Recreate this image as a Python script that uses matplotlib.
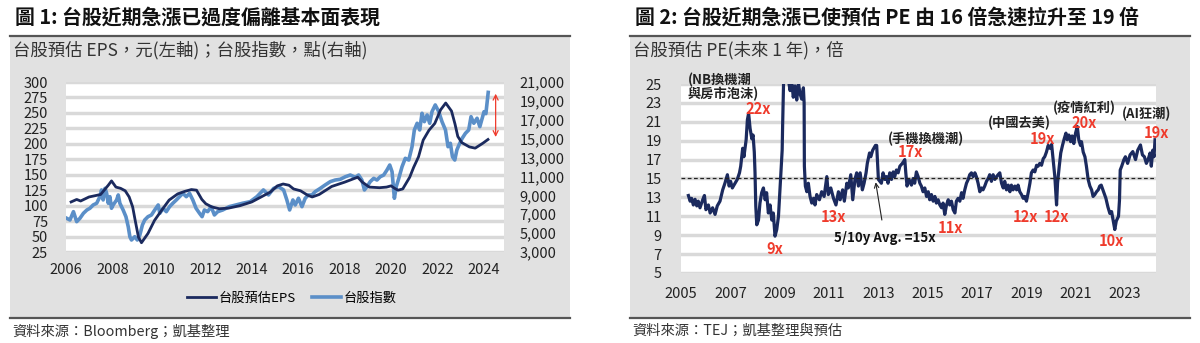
import matplotlib.pyplot as plt
from matplotlib.patches import Rectangle
from matplotlib.lines import Line2D
from matplotlib.ticker import FuncFormatter

plt.rcParams['font.family'] = ['Noto Sans CJK TC', 'DejaVu Sans']

NAVY = '#1b2a5e'
LIGHT = '#5b8fc8'
RED = '#ef3b2c'
PANEL = '#e1e1e1'
GRID = '#d9d9d9'
TICK_FONT = ['Liberation Sans Narrow', 'Noto Sans CJK TC']

# --- 台股預估 EPS (元) ---
eps_years = [2006.22, 2006.46, 2006.63, 2006.99, 2007.49, 2007.82, 2007.96, 2008.15,
             2008.35, 2008.55, 2008.72, 2008.87, 2008.98, 2009.12, 2009.25, 2009.53,
             2009.81, 2010.11, 2010.44, 2010.81, 2011.11, 2011.40, 2011.62, 2011.85,
             2012.02, 2012.27, 2012.60, 2013.00, 2013.50, 2014.00, 2014.50, 2014.80,
             2015.10, 2015.35, 2015.60, 2015.80, 2016.10, 2016.40, 2016.60, 2016.90,
             2017.44, 2018.00, 2018.56, 2018.76, 2019.06, 2019.50, 2019.80, 2020.00,
             2020.15, 2020.30, 2020.50, 2020.80, 2020.97, 2021.18, 2021.38, 2021.63,
             2021.88, 2022.13, 2022.35, 2022.60, 2022.75, 2022.87, 2023.04, 2023.37,
             2023.62, 2023.95, 2024.17]
eps_values = [106, 110, 107.5, 114, 118, 133, 140, 130,
              128, 124, 114, 98, 76, 49, 40, 55,
              76, 92, 109, 119, 123, 126, 125, 110,
              103, 98, 95, 96, 100, 106, 116, 122,
              132, 135, 133, 127, 124, 117, 114, 118,
              131, 138, 146, 138, 130, 129, 130, 132,
              128, 125, 127, 146, 162, 179, 206, 222,
              233, 255, 266, 253, 232, 212, 202, 195,
              193, 201, 207]

# --- 台股指數 (點) ---
idx_years = [2006.03, 2006.17, 2006.32, 2006.46, 2006.60, 2006.75, 2006.90, 2007.03,
             2007.17, 2007.32, 2007.46, 2007.53, 2007.60, 2007.68, 2007.75, 2007.82,
             2007.89, 2007.96, 2008.03, 2008.18, 2008.25, 2008.32, 2008.46, 2008.58,
             2008.68, 2008.75, 2008.82, 2008.96, 2009.07, 2009.18, 2009.29, 2009.39,
             2009.53, 2009.68, 2009.82, 2009.97, 2010.04, 2010.18, 2010.32, 2010.46,
             2010.60, 2010.75, 2010.89, 2011.03, 2011.18, 2011.32, 2011.46, 2011.60,
             2011.75, 2011.86, 2011.96, 2012.10, 2012.25, 2012.39, 2012.53, 2012.75,
             2013.03, 2013.32, 2013.60, 2013.93, 2014.22, 2014.50, 2014.72, 2014.94,
             2015.15, 2015.37, 2015.51, 2015.63, 2015.77, 2015.87, 2016.01, 2016.16,
             2016.30, 2016.44, 2016.59, 2016.73, 2016.95, 2017.16, 2017.38, 2017.59,
             2017.81, 2018.03, 2018.24, 2018.46, 2018.60, 2018.74, 2018.85, 2018.96,
             2019.10, 2019.25, 2019.39, 2019.53, 2019.68, 2019.82, 2019.94, 2020.04,
             2020.14, 2020.22, 2020.33, 2020.47, 2020.61, 2020.76, 2020.90, 2021.00,
             2021.12, 2021.23, 2021.33, 2021.43, 2021.55, 2021.66, 2021.76, 2021.90,
             2022.05, 2022.19, 2022.34, 2022.45, 2022.55, 2022.64, 2022.74, 2022.83,
             2022.92, 2023.06, 2023.20, 2023.34, 2023.44, 2023.56, 2023.70, 2023.82,
             2023.92, 2024.00, 2024.08, 2024.18]
idx_values = [6570, 6390, 7270, 6210, 6570, 7100, 7450, 7630,
              7980, 8160, 8860, 9570, 8510, 9740, 9210, 8160,
              8860, 7630, 7980, 8510, 9040, 8160, 7450, 6740,
              5680, 4620, 4270, 4620, 4270, 4800, 5860, 6390,
              6740, 6920, 7450, 7980, 7100, 7630, 7270, 7800,
              8160, 8510, 8860, 9210, 8860, 9210, 8510, 7630,
              7100, 6740, 7450, 7270, 7800, 6920, 7270, 7450,
              7800, 7980, 8160, 8330, 8860, 9570, 9040, 9740,
              9920, 9570, 8510, 7450, 8510, 7980, 8690, 7800,
              8690, 9040, 9040, 9390, 9740, 10100, 10450, 10620,
              10700, 10970, 11150, 10910, 11150, 10620, 9570, 9920,
              10450, 10800, 10620, 10970, 11150, 11680, 12210, 11500,
              8690, 9920, 10800, 12030, 12920, 12740, 14150, 15920,
              16630, 15920, 17690, 16800, 17510, 16630, 17860, 18570,
              17860, 16800, 15920, 14150, 14510, 13090, 12740, 13800,
              14330, 15040, 15570, 15920, 17330, 16630, 17160, 16270,
              17160, 17860, 17650, 19900]

# --- 台股預估 PE (未來 1 年, 倍) ---
pe_years = [2005.30, 2005.37, 2005.43, 2005.50, 2005.57, 2005.64, 2005.70, 2005.77,
            2005.88, 2005.95, 2006.01, 2006.11, 2006.18, 2006.28, 2006.38, 2006.47,
            2006.58, 2006.69, 2006.78, 2006.88, 2006.95, 2007.01, 2007.08, 2007.19,
            2007.28, 2007.37, 2007.42, 2007.50, 2007.55, 2007.64, 2007.69, 2007.74,
            2007.80, 2007.87, 2007.92, 2007.97, 2008.00, 2008.03, 2008.07, 2008.14,
            2008.20, 2008.27, 2008.34, 2008.41, 2008.47, 2008.54, 2008.61, 2008.68,
            2008.74, 2008.81, 2008.88, 2008.95, 2009.01, 2009.05, 2009.10, 2009.12,
            2009.16, 2009.22, 2009.28, 2009.35, 2009.42, 2009.49, 2009.55, 2009.62,
            2009.69, 2009.76, 2009.82, 2009.89, 2009.96, 2009.99, 2010.00, 2010.04,
            2010.10, 2010.16, 2010.23, 2010.30, 2010.37, 2010.43, 2010.50, 2010.61,
            2010.70, 2010.80, 2010.91, 2010.97, 2011.07, 2011.18, 2011.28, 2011.38,
            2011.45, 2011.55, 2011.62, 2011.72, 2011.78, 2011.88, 2011.96, 2012.05,
            2012.12, 2012.19, 2012.26, 2012.35, 2012.42, 2012.50, 2012.55, 2012.64,
            2012.69, 2012.77, 2012.88, 2012.93, 2013.00, 2013.12, 2013.19, 2013.26,
            2013.33, 2013.39, 2013.46, 2013.53, 2013.60, 2013.66, 2013.73, 2013.80,
            2013.87, 2013.97, 2014.07, 2014.11, 2014.16, 2014.24, 2014.34, 2014.41,
            2014.47, 2014.54, 2014.61, 2014.68, 2014.74, 2014.81, 2014.88, 2014.95,
            2015.02, 2015.08, 2015.15, 2015.22, 2015.29, 2015.35, 2015.42, 2015.49,
            2015.56, 2015.62, 2015.69, 2015.76, 2015.83, 2015.89, 2015.96, 2016.03,
            2016.10, 2016.16, 2016.23, 2016.30, 2016.37, 2016.43, 2016.50, 2016.57,
            2016.64, 2016.70, 2016.77, 2016.84, 2016.91, 2016.97, 2017.04, 2017.11,
            2017.18, 2017.24, 2017.31, 2017.38, 2017.45, 2017.51, 2017.58, 2017.65,
            2017.72, 2017.79, 2017.85, 2017.92, 2017.99, 2018.06, 2018.12, 2018.19,
            2018.26, 2018.33, 2018.39, 2018.46, 2018.53, 2018.60, 2018.66, 2018.73,
            2018.80, 2018.87, 2018.93, 2019.00, 2019.07, 2019.14, 2019.20, 2019.27,
            2019.34, 2019.41, 2019.47, 2019.54, 2019.61, 2019.68, 2019.74, 2019.81,
            2019.88, 2019.95, 2020.02, 2020.08, 2020.15, 2020.19, 2020.22, 2020.26,
            2020.33, 2020.39, 2020.46, 2020.53, 2020.60, 2020.65, 2020.72, 2020.79,
            2020.85, 2020.92, 2020.99, 2021.06, 2021.12, 2021.19, 2021.23, 2021.30,
            2021.37, 2021.43, 2021.50, 2021.57, 2021.64, 2021.70, 2021.77, 2021.84,
            2021.91, 2021.97, 2022.03, 2022.14, 2022.22, 2022.30, 2022.38, 2022.45,
            2022.53, 2022.58, 2022.64, 2022.73, 2022.77, 2022.80, 2022.86, 2022.95,
            2023.01, 2023.10, 2023.20, 2023.31, 2023.42, 2023.51, 2023.62, 2023.70,
            2023.78, 2023.86, 2023.93, 2024.01, 2024.06, 2024.12, 2024.17, 2024.21]
pe_values = [13.2, 12.6, 12.9, 12.2, 12.8, 12.1, 12.6, 11.9,
             12.75, 13.2, 11.7, 12.2, 11.35, 11.9, 11.2, 12.1,
             12.6, 13.8, 14.5, 15.4, 14.2, 14.7, 14.0, 14.5,
             14.9, 15.6, 16.3, 18.2, 17.3, 19.1, 21.2, 21.9,
             20.3, 19.2, 19.6, 17.8, 15.6, 12.1, 10.1, 10.6,
             12.4, 13.5, 14.0, 12.75, 13.5, 11.35, 12.2, 10.6,
             11.35, 8.9, 9.6, 11.0, 13.8, 15.6, 18.0, 20.8,
             25.5, 28.0, 30.0, 25.5, 24.3, 25.2, 23.6, 24.8,
             23.3, 25.1, 24.0, 23.4, 24.6, 23.0, 16.3, 14.2,
             13.6, 14.5, 13.1, 12.4, 12.9, 12.2, 13.3, 12.75,
             13.6, 13.1, 15.2, 13.3, 14.0, 12.9, 12.2, 13.6,
             12.75, 13.8, 12.6, 14.5, 14.0, 15.4, 12.75, 14.9,
             15.6, 14.2, 15.6, 13.8, 14.5, 15.6, 16.6, 17.7,
             17.3, 18.0, 18.5, 18.5, 14.9, 14.5, 15.6, 14.9,
             15.2, 14.5, 15.6, 14.9, 15.7, 15.2, 15.9, 15.6,
             16.3, 16.6, 17.0, 15.6, 14.2, 14.9, 14.3, 15.0,
             14.5, 15.7, 15.2, 14.5, 14.2, 13.6, 14.0, 13.1,
             13.6, 12.75, 13.3, 12.6, 13.1, 12.4, 12.75, 12.2,
             11.9, 12.4, 11.2, 12.2, 12.75, 12.2, 12.6, 11.7,
             11.35, 12.6, 12.9, 12.6, 13.5, 12.9, 13.8, 14.5,
             14.9, 15.4, 15.6, 15.2, 15.6, 15.2, 14.5, 13.6,
             14.0, 13.8, 14.2, 14.7, 15.0, 15.4, 14.7, 15.4,
             14.9, 15.2, 15.4, 15.6, 14.5, 14.0, 14.7, 13.8,
             14.3, 13.6, 14.3, 13.8, 14.2, 13.8, 14.3, 13.6,
             13.3, 12.9, 13.1, 12.6, 13.5, 14.5, 15.6, 15.9,
             15.7, 16.4, 16.3, 16.6, 16.4, 17.1, 17.3, 17.8,
             18.5, 18.2, 18.6, 17.0, 15.2, 13.5, 12.2, 14.5,
             16.3, 17.7, 18.5, 19.2, 19.8, 19.1, 19.6, 18.9,
             19.5, 18.7, 19.8, 20.5, 19.1, 18.5, 18.9, 17.8,
             17.3, 16.3, 14.9, 14.2, 13.8, 13.1, 13.3, 13.6,
             13.8, 14.2, 14.3, 13.5, 12.9, 12.0, 11.3, 11.5,
             10.3, 9.6, 10.5, 11.0, 12.7, 15.9, 16.3, 17.0,
             17.3, 16.6, 17.5, 17.85, 17.0, 18.0, 18.55, 17.5,
             17.3, 16.6, 17.0, 17.7, 16.3, 18.0, 17.3, 19.1]
pe_avg = 15

# PE callouts: (text, year, value)
pe_red_labels = [('22x', 2008.12, 22.4), ('9x', 2008.82, 7.5), ('13x', 2011.2, 10.9),
                 ('17x', 2014.32, 17.8), ('11x', 2015.91, 9.75), ('12x', 2018.95, 10.9),
                 ('19x', 2019.65, 19.15), ('12x', 2020.23, 10.9), ('20x', 2021.33, 20.9),
                 ('10x', 2022.45, 8.35), ('19x', 2024.29, 19.8)]
pe_theme_labels = [('(手機換機潮)', 2014.94, 19.2), ('(中國去美)', 2018.71, 20.9),
                   ('(疫情紅利)', 2021.35, 22.45), ('(AI狂潮)', 2023.86, 21.8)]

W, H = 1200, 343
fig = plt.figure(figsize=(12, 3.43), dpi=100)


def px_box(x0, y0, x1, y1):
    # pixel box measured from the top-left -> figure fraction [l, b, w, h]
    return [x0 / W, 1 - y1 / H, (x1 - x0) / W, (y1 - y0) / H]


def panel(x0, x1, title, subtitle, source):
    fig.patches.append(Rectangle((x0 / W, 1 - 318 / H), (x1 - x0) / W, (318 - 37) / H,
                                 transform=fig.transFigure, facecolor=PANEL,
                                 edgecolor='none', zorder=-10))
    for yy in (36, 318):
        fig.add_artist(Line2D([x0 / W, x1 / W], [1 - yy / H] * 2, color='#555555', lw=1.6))
    fig.text((x0 + 5) / W, 1 - 17 / H, title, fontsize=14.3, fontweight='bold',
             va='center', color='#111111')
    fig.text((x0 + 3) / W, 1 - 50 / H, subtitle, fontsize=12.5, va='center', color='#333333')
    fig.text((x0 + 2) / W, 1 - 331 / H, source, fontsize=10.3, style='italic',
             va='center', color='#333333')


def style(ax, pad_y):
    ax.set_facecolor('white')
    for s in ax.spines.values():
        s.set_visible(False)
    ax.tick_params(length=0, labelsize=10.5, colors='#222222')
    ax.tick_params(axis='y', pad=pad_y)
    ax.tick_params(axis='x', pad=8)
    ax.grid(axis='y', color=GRID, lw=2.5)
    ax.set_axisbelow(True)
    for lab in ax.get_xticklabels() + ax.get_yticklabels():
        lab.set_family(TICK_FONT)


# ---------------- 圖 1 ----------------
panel(10, 570, '圖 1: 台股近期急漲已過度偏離基本面表現',
      '台股預估 EPS，元(左軸)；台股指數，點(右軸)',
      '資料來源：Bloomberg；凱基整理')

ax = fig.add_axes(px_box(66, 82, 504, 252))
ax.set_xlim(2006, 2024.86)
ax.set_ylim(25, 300)
ax.set_xticks(range(2006, 2025, 2))
ax.set_yticks(range(25, 301, 25))
style(ax, 13)

ax2 = ax.twinx()
ax2.set_ylim(3000, 21000)
ax2.set_yticks(range(3000, 21001, 2000))
ax2.yaxis.set_major_formatter(FuncFormatter(lambda v, p: f'{v:,.0f}'))
for s in ax2.spines.values():
    s.set_visible(False)
ax2.tick_params(length=0, labelsize=10.5, colors='#222222', pad=11)
for lab in ax2.get_yticklabels():
    lab.set_family(TICK_FONT)
idx_line, = ax2.plot(idx_years, idx_values, color=LIGHT, lw=2.6, solid_joinstyle='round')
ax2.annotate('', xy=(2024.5, 19760), xytext=(2024.5, 15175),
             arrowprops=dict(arrowstyle='<->', color=RED, lw=0.9,
                             shrinkA=0, shrinkB=0, mutation_scale=9))

# EPS on its own transparent layer so it sits above the index line
ax_eps = fig.add_axes(px_box(66, 82, 504, 252), sharex=ax, sharey=ax)
ax_eps.axis('off')
ax_eps.patch.set_visible(False)
eps_line, = ax_eps.plot(eps_years, eps_values, color=NAVY, lw=2.0, solid_joinstyle='round')

fig.legend([eps_line, idx_line], ['台股預估EPS', '台股指數'], loc='center',
           bbox_to_anchor=(292 / W, 1 - 298 / H), ncol=2, frameon=False, fontsize=9.5,
           handlelength=2.2, handletextpad=0.2, columnspacing=1.2)

# ---------------- 圖 2 ----------------
panel(630, 1190, '圖 2: 台股近期急漲已使預估 PE 由 16 倍急速拉升至 19 倍',
      '台股預估 PE(未來 1 年)，倍',
      '資料來源：TEJ；凱基整理與預估')

axr = fig.add_axes(px_box(681, 84, 1156, 273))
axr.set_xlim(2005, 2024.25)
axr.set_ylim(5, 25)
axr.set_xticks(range(2005, 2024, 2))
axr.set_yticks(range(5, 26, 2))
style(axr, 14)
axr.tick_params(axis='x', pad=10)
axr.plot(pe_years, pe_values, color=NAVY, lw=2.3, solid_joinstyle='round')
axr.axhline(pe_avg, color='#222222', lw=0.9, ls=(0, (3, 2)))

for txt, x, y in pe_red_labels:
    axr.text(x, y, txt, color=RED, fontsize=10.5, fontweight='bold', ha='center', va='center')
for txt, x, y in pe_theme_labels:
    axr.text(x, y, txt, color='#222222', fontsize=9.5, fontweight='bold', ha='center', va='center')
axr.text(2005.28, 24.7, '(NB換機潮\n與房市泡沫)', color='#222222', fontsize=9.5,
         fontweight='bold', ha='left', va='center', linespacing=1.0)
axr.annotate('5/10y Avg. =15x', xy=(2012.89, 14.6), xytext=(2013.26, 8.7),
             color='#111111', fontsize=9.5, fontweight='bold', ha='center', va='center',
             arrowprops=dict(arrowstyle='->', color='#222222', lw=0.8,
                             shrinkA=6, shrinkB=0, mutation_scale=8))

fig.savefig('out.png', dpi=100)
